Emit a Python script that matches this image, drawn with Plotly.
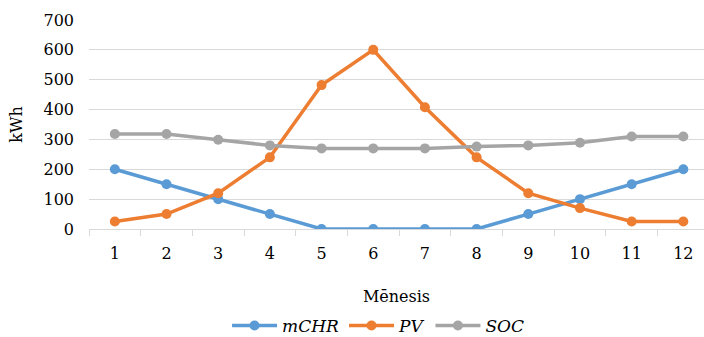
import plotly.graph_objects as go

months = list(range(1, 13))
month_labels = [str(m) for m in months]
mCHR = [200, 150, 100, 50, 0, 0, 0, 0, 50, 100, 150, 200]
PV = [25, 50, 120, 240, 482, 600, 408, 240, 120, 70, 25, 25]
SOC = [318, 318, 299, 280, 270, 270, 270, 276, 280, 289, 310, 310]

series = [("mCHR", mCHR, "#5B9BD5"), ("PV", PV, "#ED7D31"), ("SOC", SOC, "#A5A5A5")]

fig = go.Figure()
for name, vals, col in series:
    fig.add_trace(go.Scatter(
        x=months, y=vals, name=f"<i>{name}</i>", mode="lines+markers",
        line=dict(color=col, width=3.5),
        marker=dict(color=col, size=10),
    ))

font = "DejaVu Serif"
fig.update_layout(
    width=704, height=337,
    margin=dict(l=89, r=0, t=20, b=108, autoexpand=False),
    paper_bgcolor="white", plot_bgcolor="white",
    font=dict(family=font, size=16, color="#000"),
    showlegend=True,
    legend=dict(orientation="h", x=0.47, xanchor="center", y=-0.464, yanchor="middle",
                font=dict(family=font, size=17), itemwidth=45, traceorder="normal"),
    xaxis=dict(
        range=[0.5, 12.4], tickvals=months, ticktext=month_labels,
        showgrid=False, zeroline=False, showline=True, linecolor="#d9d9d9", linewidth=1,
        ticks="", ticklabelstandoff=10,
        minor=dict(tickvals=[m + 0.5 for m in range(0, 13)], ticks="outside", ticklen=6,
                   tickcolor="#d9d9d9", showgrid=False),
        title=dict(text="Mēnesis", font=dict(family=font, size=16), standoff=28),
    ),
    yaxis=dict(
        range=[0, 700], tickvals=list(range(0, 701, 100)),
        showgrid=True, gridcolor="#d9d9d9", gridwidth=1, zeroline=False,
        showline=False, ticks="", ticklabelstandoff=14,
        title=dict(text="kWh", font=dict(family=font, size=16), standoff=16),
    ),
)
fig.write_html("out.html", config={"displayModeBar": False},
               post_script="document.body.style.margin='0';document.body.style.padding='0';")
